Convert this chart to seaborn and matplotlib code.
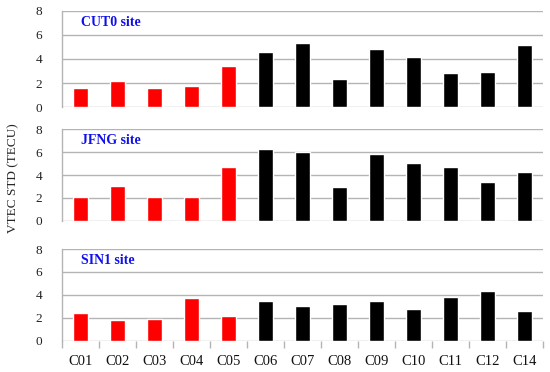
import numpy as np
import matplotlib
matplotlib.use('Agg')
import matplotlib.pyplot as plt
import pandas as pd
import seaborn as sns

# BeiDou satellites and VTEC STD (TECU) per site
satellites = ['C01', 'C02', 'C03', 'C04', 'C05', 'C06', 'C07',
              'C08', 'C09', 'C10', 'C11', 'C12', 'C14']
groups = ['GEO'] * 5 + ['other'] * 8
cut0 = [1.55, 2.2, 1.63, 1.74, 3.39, 4.6, 5.29, 2.31, 4.85, 4.16, 2.83, 2.89, 5.18]
jfng = [2.11, 3.04, 2.11, 2.07, 4.7, 6.23, 6.03, 2.99, 5.85, 5.04, 4.7, 3.39, 4.23]
sin1 = [2.42, 1.83, 1.89, 3.7, 2.15, 3.43, 3.03, 3.23, 3.49, 2.77, 3.78, 4.31, 2.59]
site_names = ['CUT0 site', 'JFNG site', 'SIN1 site']
yticks = [0, 2, 4, 6, 8]

sns.set_theme(style='white')
plt.rcParams['font.family'] = ['Liberation Serif', 'DejaVu Serif']

fig = plt.figure(figsize=(5.5, 3.72), dpi=100)
# panel boxes in figure fractions: left, bottom, width, height
boxes = [
    [0.112, 0.712, 0.875, 0.259],
    [0.112, 0.406, 0.875, 0.247],
    [0.112, 0.084, 0.875, 0.2465],
]
palette = {'GEO': '#ff0000', 'other': '#000000'}
grid_col = '#b4b4b4'

for i, (vals, name) in enumerate(zip([cut0, jfng, sin1], site_names)):
    ax = fig.add_axes(boxes[i])
    df = pd.DataFrame({'sat': satellites, 'vtec': vals, 'grp': groups})
    sns.barplot(data=df, x='sat', y='vtec', hue='grp', palette=palette,
                dodge=False, width=0.4, legend=False, saturation=1, ax=ax)
    ax.set_ylim(0, 8)
    ax.set_xlim(-0.5, len(satellites) - 0.5)
    ax.set_yticks(yticks)
    ax.set_yticklabels([str(t) for t in yticks], fontsize=9.5)
    ax.yaxis.grid(True, color=grid_col, linewidth=1.0)
    ax.set_axisbelow(True)
    for s in ['top', 'right', 'bottom']:
        ax.spines[s].set_visible(False)
    ax.spines['left'].set_color(grid_col)
    ax.spines['left'].set_linewidth(1.0)
    ax.tick_params(axis='y', length=0, pad=14, colors='#222222')
    ax.set_xlabel('')
    ax.set_ylabel('')
    ax.text(0.04, 0.88, name, transform=ax.transAxes, color='#1010ee',
            fontsize=10, fontweight='bold', va='center', ha='left')
    if i < 2:
        ax.set_xticks([])
    else:
        ax.set_xticks(range(len(satellites)))
        ax.set_xticklabels(satellites, fontsize=10.5)
        ax.set_xticks(np.arange(-0.5, len(satellites), 1.0), minor=True)
        ax.tick_params(axis='x', which='major', length=0, pad=10, colors='#111111')
        ax.tick_params(axis='x', which='minor', length=5, width=1.0,
                       color=grid_col, direction='out', bottom=True)

fig.text(0.025, 0.52, 'VTEC STD (TECU)', rotation=90, va='center', ha='center',
         fontsize=9.5)

fig.savefig('out.png', dpi=100)
